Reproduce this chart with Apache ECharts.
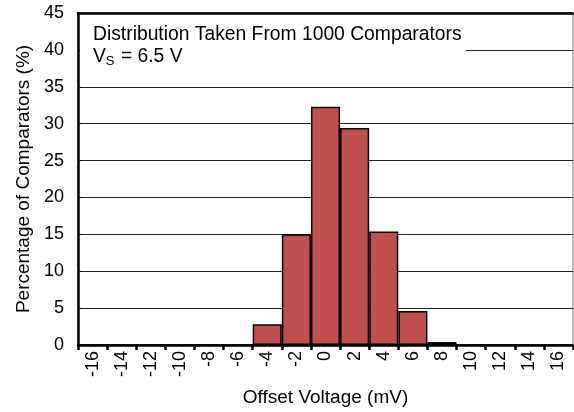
<!DOCTYPE html>
<html><head><meta charset="utf-8">
<script src="https://cdn.jsdelivr.net/npm/echarts@6/dist/echarts.min.js"></script>
<style>html,body{margin:0;padding:0;background:#fff}#c{width:574px;height:412px}</style>
</head><body><div id="c"></div>
<script>
var categories = ['-16','-14','-12','-10','-8','-6','-4','-2','0','2','4','6','8','10','12','14','16'];
var percentages = [0,0,0,0,0,0,2.8,15.0,32.3,29.4,15.4,4.6,0.4,0,0,0,0];
var yTicks = {min:0, max:45, interval:5};
var FONT = '"Liberation Sans", Arial, sans-serif';
var chart = echarts.init(document.getElementById('c'), null, {renderer:'canvas'});
chart.setOption({
  animation:false,
  grid:{left:78, top:13, right:1, bottom:63, show:true, borderColor:'#777', borderWidth:1, backgroundColor:'transparent'},
  xAxis:[{
    type:'category', data:categories, position:'bottom',
    axisLine:{show:true, lineStyle:{color:'#000', width:2.5}},
    axisTick:{show:true, alignWithLabel:false, length:5, lineStyle:{color:'#000', width:2.5}},
    axisLabel:{rotate:90, color:'#000', fontFamily:FONT, fontSize:18, margin:6},
    name:'Offset Voltage (mV)', nameLocation:'middle', nameGap:43,
    nameTextStyle:{color:'#000', fontFamily:FONT, fontSize:19}
  },{
    type:'category', data:categories, position:'top',
    axisLine:{show:true, lineStyle:{color:'#000', width:2.5}},
    axisTick:{show:false}, axisLabel:{show:false}
  }],
  yAxis:{
    type:'value', min:yTicks.min, max:yTicks.max, interval:yTicks.interval,
    axisLine:{show:true, lineStyle:{color:'#000', width:2.5}},
    axisTick:{show:true, inside:true, length:4, lineStyle:{color:'#000'}},
    axisLabel:{color:'#000', fontFamily:FONT, fontSize:18, margin:14},
    splitLine:{show:true, lineStyle:{color:'#222', width:1}},
    name:'Percentage of Comparators (%)', nameLocation:'middle', nameGap:44,
    nameTextStyle:{color:'#000', fontFamily:FONT, fontSize:19}
  },
  graphic:[
    {type:'rect', z:50, shape:{x:80, y:18, width:386, height:46}, style:{fill:'#fff'}},
    {type:'text', z:51, left:93, top:23.5, style:{
      text:'Distribution Taken From 1000 Comparators\n{v|V}{s|S}{v| = 6.5 V}',
      font:'19.3px '+FONT, fill:'#000', lineHeight:22,
      rich:{v:{fontSize:19.3, fontFamily:FONT, fill:'#000', lineHeight:22},
            s:{fontSize:13, fontFamily:FONT, fill:'#000', verticalAlign:'bottom', padding:[7,1,0,0], lineHeight:22}}
    }}
  ],
  series:[{
    type:'bar', data:percentages, barWidth:'100%', barCategoryGap:'0%',
    itemStyle:{color:'#C0504D', borderColor:'#000', borderWidth:1.5},
    z:5
  }]
});
</script></body></html>
